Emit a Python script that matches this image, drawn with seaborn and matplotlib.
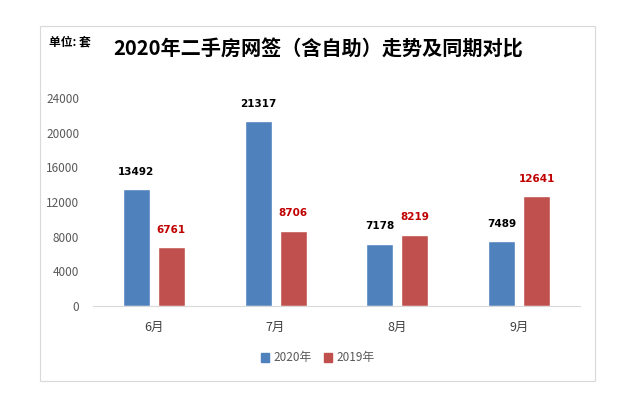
import numpy as np
import pandas as pd
import seaborn as sns
import matplotlib.pyplot as plt
from matplotlib.patches import Rectangle

months = ['6月', '7月', '8月', '9月']
series = ['2020年', '2019年']
v2020 = [13492, 21317, 7178, 7489]
v2019 = [6761, 8706, 8219, 12641]
yticks = [0, 4000, 8000, 12000, 16000, 20000, 24000]

data = pd.DataFrame({
    'month': months * 2,
    'year': [series[0]] * 4 + [series[1]] * 4,
    'count': v2020 + v2019,
})

sns.set_style('white')
plt.rcParams['font.family'] = ['Noto Sans CJK SC', 'DejaVu Sans']
plt.rcParams['text.color'] = 'black'

fig = plt.figure(figsize=(6.37, 4.08), dpi=100)
ax = fig.add_axes([93 / 637, 1 - 306 / 408, 487 / 637, 208 / 408])

colors = ['#4F81BD', '#C0504D']
sns.barplot(data=data, x='month', y='count', hue='year', palette=colors,
            width=0.574, gap=0.23, ax=ax, legend=False, saturation=1)

ax.set_ylim(0, 24000)
ax.set_yticks(yticks)
ax.set_yticklabels([str(t) for t in yticks], color='#595959', fontsize=8.5)
ax.tick_params(axis='x', colors='#404040', labelsize=9, length=0, pad=11)
ax.tick_params(axis='y', length=0, pad=10)
ax.set_xlabel('')
ax.set_ylabel('')
for s in ['top', 'right', 'left']:
    ax.spines[s].set_visible(False)
ax.spines['bottom'].set_color('#D9D9D9')

label_colors = ['black', '#C00000']
for cont, lc in zip(ax.containers, label_colors):
    ax.bar_label(cont, labels=[str(int(b.get_height())) for b in cont],
                 color=lc, fontsize=7.5, fontweight='bold', padding=9,
                 family=['DejaVu Sans'])

# chart border
fig.patches.append(Rectangle((40 / 637, 1 - 381 / 408), 555 / 637, 355 / 408,
                             transform=fig.transFigure, fill=False,
                             edgecolor='#D9D9D9', linewidth=0.8))

fig.text(49 / 637, 1 - 42 / 408, '单位: 套', fontsize=8.5, fontweight='bold',
         va='center', ha='left')
fig.text(318 / 637, 1 - 49 / 408, '2020年二手房网签（含自助）走势及同期对比',
         fontsize=14.5, fontweight='bold', va='center', ha='center')

# legend
handles = [Rectangle((0, 0), 1, 1, color=c) for c in colors]
fig.legend(handles, series, loc='center', bbox_to_anchor=(318 / 637, 1 - 358 / 408),
           ncol=2, frameon=False, fontsize=8.5, handlelength=0.7, handleheight=0.7,
           handletextpad=0.4, columnspacing=1.0, labelcolor='#595959')

fig.savefig('out.png', dpi=100)
